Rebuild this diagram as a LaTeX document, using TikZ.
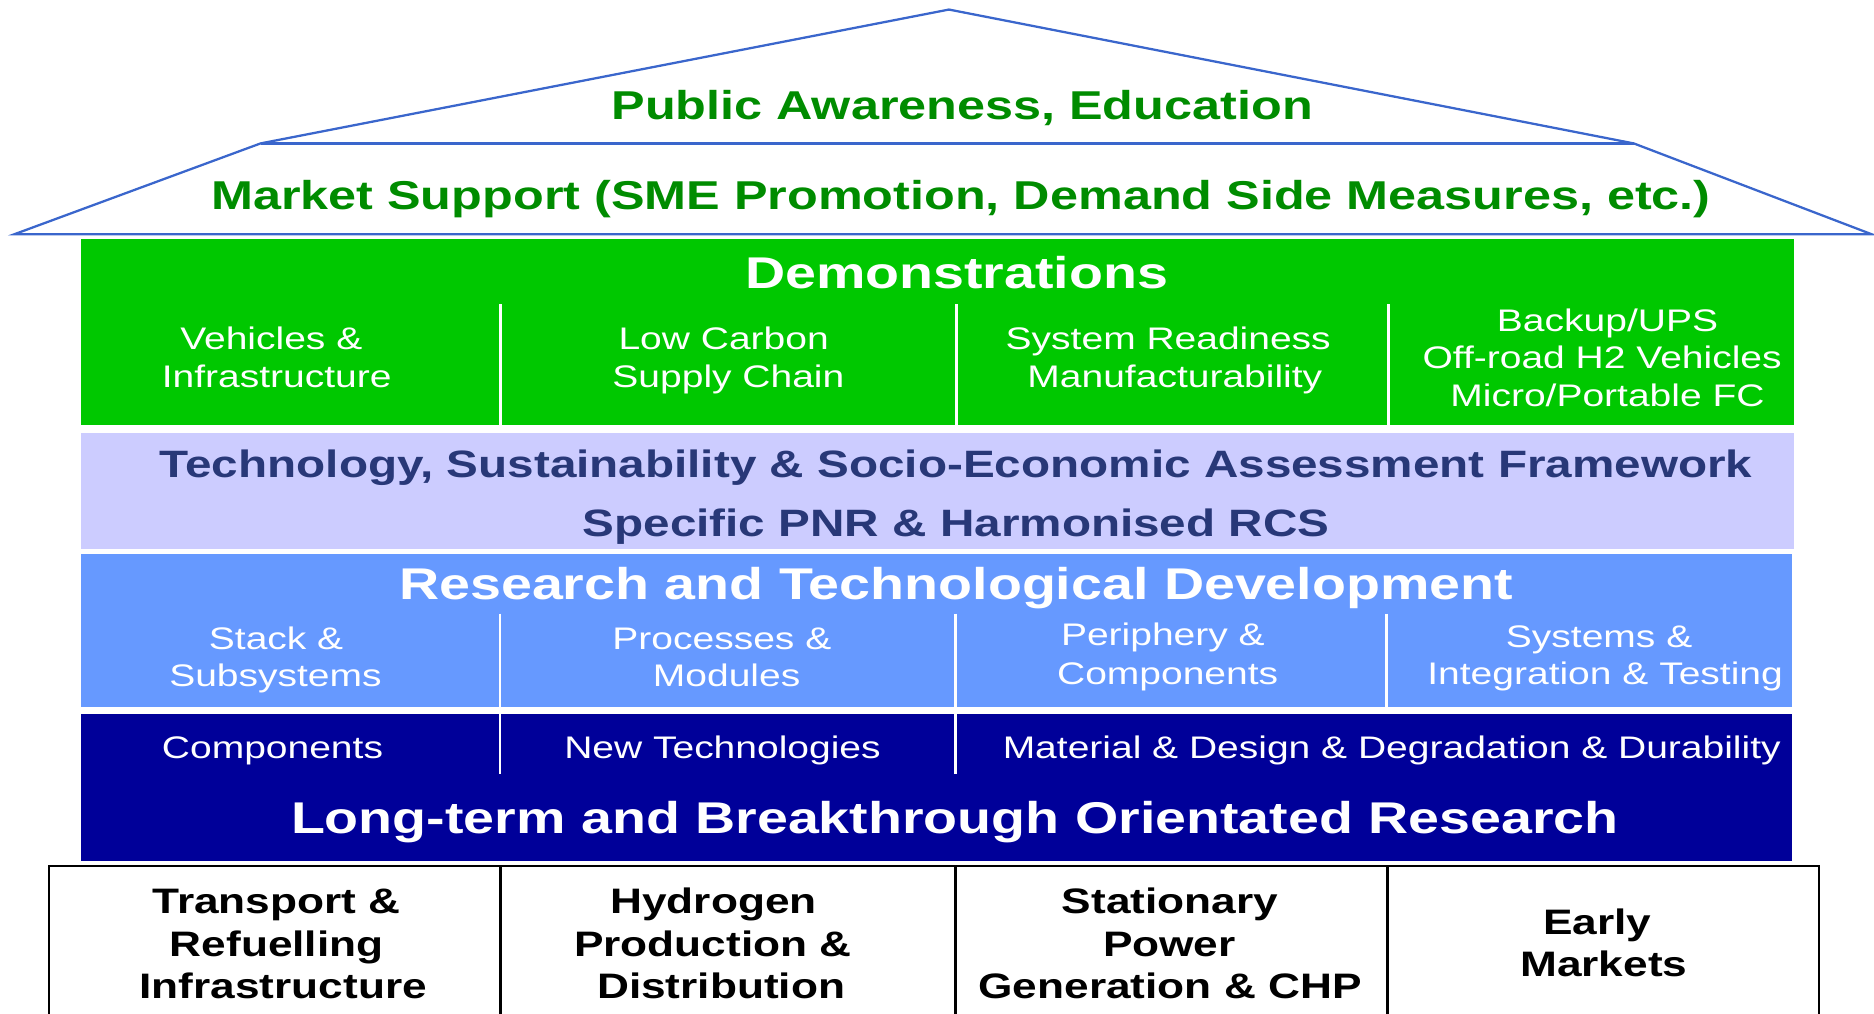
\documentclass[tikz,border=0pt]{standalone}
\usepackage{fontspec}
\setmainfont{Liberation Sans}[FakeStretch=1.25]
\definecolor{roofblue}{HTML}{3A66CC}
\definecolor{rooftext}{HTML}{008C00}
\definecolor{demogreen}{HTML}{00C800}
\definecolor{lavbg}{HTML}{CCCCFF}
\definecolor{lavtext}{HTML}{283878}
\definecolor{rtdblue}{HTML}{6699FF}
\definecolor{navy}{HTML}{000099}
\tikzset{
  txt/.style={inner sep=0pt, anchor=base},
  roofT/.style={txt, font=\bfseries\fontsize{33.7}{40}\selectfont, text=rooftext},
  headT/.style={txt, font=\bfseries\fontsize{37.2}{44}\selectfont, text=white},
  subT/.style={txt, font=\fontsize{26.1}{31}\selectfont, text=white},
  lavT/.style={txt, font=\bfseries\fontsize{31.9}{38}\selectfont, text=lavtext},
  botT/.style={txt, font=\bfseries\fontsize{29.6}{36}\selectfont, text=black},
  roofline/.style={draw=roofblue, line width=1.9pt, line join=miter},
  divider/.style={draw=white, line width=2.2pt},
  tabline/.style={draw=black, line width=2.4pt}
}
\begin{document}
\begin{tikzpicture}[x=1pt,y=-1pt]
\useasboundingbox (0,0) rectangle (1568,847.6);
% roof
\coordinate (apex) at (794,8);
\coordinate (ul) at (218,120);
\coordinate (ur) at (1367,120);
\coordinate (ll) at (12,196);
\coordinate (lr) at (1566,196);
\draw[roofline] (ll) -- (ul) -- (apex) -- (ur) -- (lr) -- cycle;
\draw[roofline] (ul) -- (ur);
\node[roofT] (pub) at (805,100) {Public Awareness, Education};
\node[roofT] (mkt) at (804,175.5) {Market Support (SME Promotion, Demand Side Measures, etc.)};
% demonstrations
\fill[demogreen] (68,200) rectangle (1501,356);
\foreach \x/\n in {419/a,800.5/b,1162/c} {
  \coordinate (dt\n) at (\x,254.5);
  \coordinate (db\n) at (\x,356);
  \draw[divider] (dt\n) -- (db\n);
}
\node[headT] (demo) at (800.5,241) {Demonstrations};
\node[subT] (g1a) at (227,292.5) {Vehicles \&};
\node[subT] (g1b) at (231.5,324) {Infrastructure};
\node[subT] (g2a) at (605.5,292.5) {Low Carbon};
\node[subT] (g2b) at (609.5,324) {Supply Chain};
\node[subT] (g3a) at (977.5,292.5) {System Readiness};
\node[subT] (g3b) at (983,324) {Manufacturability};
\node[subT] (g4a) at (1345,277.5) {Backup/UPS};
\node[subT] (g4b) at (1340.5,308.5) {Off-road H2 Vehicles};
\node[subT] (g4c) at (1345,340) {Micro/Portable FC};
% assessment framework
\fill[lavbg] (68,362.5) rectangle (1501,459.6);
\node[lavT] (tsa) at (800,399.5) {Technology, Sustainability \& Socio-Economic Assessment Framework};
\node[lavT] (pnr) at (800,448.5) {Specific PNR \& Harmonised RCS};
% RTD
\fill[rtdblue] (68,463.3) rectangle (1499,591.8);
\foreach \x/\n in {418.5/a,799.5/b,1160/c} {
  \coordinate (rt\n) at (\x,513.4);
  \coordinate (rb\n) at (\x,591.8);
  \draw[divider] (rt\n) -- (rb\n);
}
\node[headT] (rtd) at (800,501.5) {Research and Technological Development};
\node[subT] (b1a) at (231,543.5) {Stack \&};
\node[subT] (b1b) at (230.5,574.5) {Subsystems};
\node[subT] (b2a) at (604,543.5) {Processes \&};
\node[subT] (b2b) at (608,574.5) {Modules};
\node[subT] (b3a) at (973,540.5) {Periphery \&};
\node[subT] (b3b) at (977,572.5) {Components};
\node[subT] (b4a) at (1338,542) {Systems \&};
\node[subT] (b4b) at (1343,573) {Integration \& Testing};
% long-term research
\fill[navy] (68,597) rectangle (1499,720);
\foreach \x/\n in {418.5/a,799.5/b} {
  \coordinate (nt\n) at (\x,597);
  \coordinate (nb\n) at (\x,647.6);
  \draw[divider] (nt\n) -- (nb\n);
}
\node[subT] (n1) at (228,634.5) {Components};
\node[subT] (n2) at (604.5,634.5) {New Technologies};
\node[subT] (n3) at (1164.5,634.5) {Material \& Design \& Degradation \& Durability};
\node[headT] (ltr) at (799,697.5) {Long-term and Breakthrough Orientated Research};
% application table
\coordinate (tl) at (41,724.6);
\coordinate (tr) at (1522,724.6);
\coordinate (bl) at (41,860);
\coordinate (br) at (1522,860);
\draw[tabline] (bl) -- (tl) -- (tr) -- (br);
\foreach \x/\n in {419/a,799.5/b,1161/c} {
  \coordinate (tt\n) at (\x,724.6);
  \coordinate (tb\n) at (\x,860);
  \draw[tabline] (tt\n) -- (tb\n);
}
\node[botT] (t1a) at (231.5,764) {Transport \&};
\node[botT] (t1b) at (231.5,800) {Refuelling};
\node[botT] (t1c) at (237,835.5) {Infrastructure};
\node[botT] (t2a) at (597,764) {Hydrogen};
\node[botT] (t2b) at (596.6,800) {Production \&};
\node[botT] (t2c) at (603.4,835.5) {Distribution};
\node[botT] (t3a) at (979,764) {Stationary};
\node[botT] (t3b) at (978.4,800) {Power};
\node[botT] (t3c) at (979,835.5) {Generation \& CHP};
\node[botT] (t4a) at (1336.4,781.6) {Early};
\node[botT] (t4b) at (1342,817.4) {Markets};
\end{tikzpicture}
\end{document}
